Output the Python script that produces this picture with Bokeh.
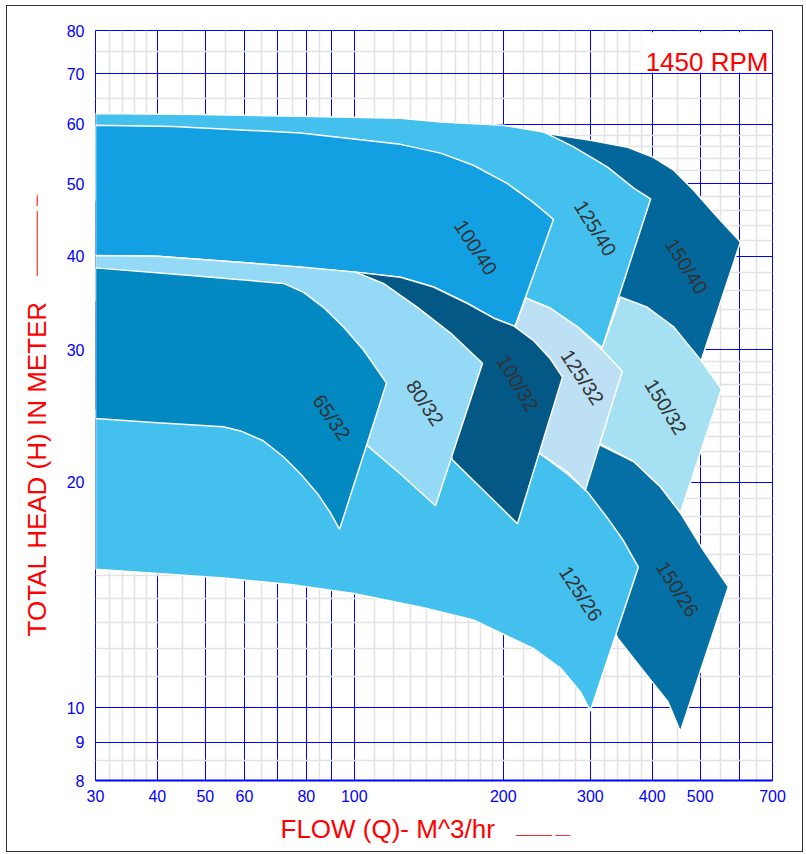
from bokeh.plotting import figure
from bokeh.models import Range1d, FixedTicker, PrintfTickFormatter, Label, Arrow, NormalHead, Title
from bokeh.core.properties import value
from bokeh.embed import file_html
from bokeh.resources import INLINE

# ---- pump selection tiles: flow Q (m^3/hr) and head H (m) along each outline ----
q_150_40 = [227, 238, 300, 357, 402, 442, 485, 542, 603, 501, 416, 345, 261, 227]
h_150_40 = [57.8, 58.5, 57.1, 55.9, 54.2, 52.1, 49.0, 45.1, 41.8, 28.9, 32.4, 34.9, 39.5, 42.0]

q_125_40 = [30, 48.9, 77.9, 124, 149.4, 200, 241, 277, 325, 367, 397, 317, 282.5, 249, 222, 156.5, 30]
h_125_40 = [62.0, 61.8, 61.5, 61.1, 60.4, 59.8, 58.6, 56.0, 52.6, 49.3, 47.7, 30.2, 32.2, 34.1, 35.2, 39.5, 47.5]

q_100_40 = [30, 43.1, 77.9, 124, 149.4, 174.1, 204, 230, 252.7, 211.8, 209.8, 191, 169.4, 144.6, 124, 100.6, 63.8, 40, 30]
h_100_40 = [59.8, 59.6, 58.4, 56.4, 54.9, 52.9, 50.0, 47.2, 44.8, 32.4, 32.3, 33.1, 34.6, 36.4, 37.5, 38.1, 39.1, 40.0, 40.1]

q_150_26 = [293, 314, 367, 416, 456, 508, 570, 456, 430, 384, 340, 314, 280, 293]
h_150_26 = [22.7, 22.4, 21.3, 19.7, 18.2, 16.2, 14.5, 9.3, 10.2, 11.2, 12.4, 14.8, 19.5, 22.0]

q_125_26 = [30, 61.7, 98.3, 156.5, 197.4, 237.9, 269.7, 296, 325, 350, 375, 300, 286.5, 261, 230, 207, 174, 138, 99.7, 74.3, 54.4, 40, 30]
h_125_26 = [24.9, 24.5, 23.8, 22.7, 22.2, 21.8, 20.5, 19.4, 17.9, 16.7, 15.4, 9.9, 10.5, 11.3, 12.0, 12.4, 13.1, 13.6, 14.2, 14.6, 14.9, 15.1, 15.3]

q_150_32 = [345, 391, 442, 501, 552, 456, 416, 367, 314, 317]
h_150_32 = [35.3, 34.2, 32.2, 29.1, 26.6, 18.2, 19.7, 21.3, 22.5, 30.2]

q_125_32 = [222, 249, 282.5, 314, 348, 293, 270, 238, 217, 205, 212]
h_125_32 = [35.2, 34.1, 32.2, 30.2, 28.1, 19.5, 20.6, 21.8, 22.7, 31.4, 32.4]

q_100_32 = [100.6, 124, 144.6, 169.4, 191, 210, 230, 249, 263.5, 213.7, 158, 142.6]
h_100_32 = [38.1, 37.5, 36.4, 34.6, 33.1, 32.3, 30.9, 29.2, 27.6, 17.6, 21.4, 25.7]

q_80_32 = [30, 40, 63.8, 77.9, 100.6, 114.5, 134.2, 156.5, 181.6, 145.9, 124, 106.8, 93.8, 30]
h_80_32 = [40.1, 40.0, 39.1, 38.7, 38.1, 36.8, 34.2, 31.6, 28.8, 18.6, 20.5, 22.3, 24.2, 34.9]

q_65_32 = [30, 46.7, 65.5, 72.0, 79.0, 86.6, 95.1, 104.4, 116.2, 93.4, 89.5, 84.3, 77.9, 72.0, 65.5, 58.9, 54.4, 40, 30]
h_65_32 = [38.6, 37.7, 37.0, 36.8, 35.8, 34.2, 32.2, 30.0, 27.1, 17.3, 18.2, 19.3, 20.5, 21.6, 22.7, 23.4, 23.7, 24.0, 24.3]

# drawing order back to front
tile_q = [q_150_40, q_125_40, q_100_40, q_150_26, q_125_26, q_150_32, q_125_32, q_100_32, q_80_32, q_65_32]
tile_h = [h_150_40, h_125_40, h_100_40, h_150_26, h_125_26, h_150_32, h_125_32, h_100_32, h_80_32, h_65_32]
tile_colors = ["#03679B", "#43C0EE", "#13A0E2", "#0570A5", "#43C0EE",
               "#A5E0F3", "#BEE0F4", "#045886", "#94D9F6", "#0289C2"]

# tile labels
label_text = ["100/40", "125/40", "150/40", "65/32", "80/32", "100/32", "125/32", "150/32", "125/26", "150/26"]
label_q = [176, 307, 469, 90, 139, 214, 289, 426, 287, 450]
label_h = [41.1, 43.6, 38.8, 24.4, 25.5, 27.1, 27.6, 25.2, 14.2, 14.4]
label_angle_deg = [-57, -58, -57.6, -55.7, -56, -59, -56.6, -58.3, -56.6, -57.6]

# axes
x_tick_values = [30, 40, 50, 60, 80, 100, 200, 300, 400, 500, 700]
y_tick_values = [8, 9, 10, 20, 30, 40, 50, 60, 70, 80]
x_grid_major = [40, 50, 60, 70, 80, 90, 100, 200, 300, 400, 500, 600]
x_grid_minor = [32, 34, 36, 38, 45, 55, 65, 75, 85, 110, 120, 130, 140, 150, 160, 170, 180, 190,
                220, 240, 260, 280, 320, 340, 360, 380, 450, 550, 650]
y_grid_major = [9, 10, 20, 30, 40, 50, 60, 70]
y_grid_minor = [8.5, 11, 12, 13, 14, 15, 16, 17, 18, 19, 21, 22, 23, 24, 25, 26, 27, 28, 29,
                32, 34, 36, 38, 42, 44, 46, 48, 52, 54, 56, 58, 65, 75]

FONT = "Liberation Sans"
BLUE = "#0000FF"
RED = "#FF0000"

p = figure(width=797, height=847, x_axis_type="log", y_axis_type="log",
           x_range=Range1d(30, 700), y_range=Range1d(8, 80),
           output_backend="svg", toolbar_location=None,
           min_border_left=88, min_border_right=32, min_border_top=24, min_border_bottom=73)
p.styles = {"border": "1px solid #333333", "margin-left": "6px", "margin-top": "5px"}
p.background_fill_color = "white"
p.border_fill_color = "white"
p.outline_line_color = BLUE
p.outline_line_width = 1

# grids
p.xgrid.ticker = FixedTicker(ticks=x_grid_major, minor_ticks=x_grid_minor)
p.ygrid.ticker = FixedTicker(ticks=y_grid_major, minor_ticks=y_grid_minor)
p.grid.grid_line_color = BLUE
p.grid.grid_line_width = 1
p.grid.minor_grid_line_color = "#E2E2E2"
p.grid.minor_grid_line_width = 1.5

# axes
p.xaxis.ticker = FixedTicker(ticks=x_tick_values)
p.yaxis.ticker = FixedTicker(ticks=y_tick_values)
p.xaxis.formatter = PrintfTickFormatter(format="%d")
p.yaxis.formatter = PrintfTickFormatter(format="%d")
for ax in (p.xaxis[0], p.yaxis[0]):
    ax.major_tick_line_color = None
    ax.minor_tick_line_color = None
    ax.major_tick_in = 0
    ax.major_tick_out = 0
    ax.major_label_text_color = BLUE
    ax.major_label_text_font = FONT
    ax.major_label_text_font_size = "16px"
p.xaxis.major_label_standoff = 9
p.yaxis.major_label_standoff = 11
p.xaxis.axis_line_color = BLUE
p.xaxis.axis_line_width = 2
p.yaxis.axis_line_color = None

# tiles
p.patches(xs=tile_q, ys=tile_h, fill_color=tile_colors, line_color="white", line_width=1.5)

# tile labels
p.text(x=label_q, y=label_h, text=label_text,
       angle=[a * 3.14159265 / 180 for a in label_angle_deg],
       text_font=value(FONT), text_font_size="20px", text_color="#333333",
       text_align="center", text_baseline="middle")

# speed note
p.quad(left=[379], right=[693], bottom=[70.3], top=[79.6], fill_color="white", line_color=None)
p.add_layout(Label(x=687, y=72.6, text="1450 RPM", text_font=FONT, text_font_size="26px",
                   text_color=RED, text_align="right", text_baseline="alphabetic"))

# axis titles
p.add_layout(Title(text="TOTAL HEAD (H) IN METER", align="left", offset=144, standoff=24,
                   text_font=FONT, text_font_size="26px", text_font_style="normal",
                   text_color=RED), "left")
p.add_layout(Title(text="FLOW (Q)- M^3/hr", align="left", offset=185, standoff=15,
                   text_font=FONT, text_font_size="26px", text_font_style="normal",
                   text_color=RED), "below")

# direction arrows next to the axis titles (canvas pixels). Arrow heads are painted
# outside the plot frame, so each arrow is built from small filled heads.
def head(tx, ty, dx, dy, size):
    return Arrow(end=NormalHead(size=size, fill_color=RED, line_color=RED, line_width=0.5),
                 x_start=tx - dx, y_start=ty - dy, x_end=tx, y_end=ty,
                 start_units="canvas", end_units="canvas", line_color=RED, line_width=0.5)

def build_arrow(tail, base, tip, half, fixed, vertical):
    sgn = 1.0 if tip > tail else -1.0
    step = abs(tip - base)
    slope = half / step
    ratio = 2 * slope / (1 - 2 * slope)        # head size per unit distance from tip
    pieces = []
    d = 0.0
    while d + max(1.0, ratio * d) <= step + 0.01:
        pieces.append((tip - sgn * d, max(1.0, ratio * d)))
        d += 0.35
    pos = base + sgn * 1.5
    while sgn * (pos - tail) > 0:
        pieces.append((pos, 1.7))
        pos -= sgn * 0.33
    for pos, s in pieces:
        if vertical:
            p.add_layout(head(fixed, pos, 0, sgn, s))
        else:
            p.add_layout(head(pos, fixed, sgn, 0, s))

# up arrow beside the head title (canvas y grows downward)
build_arrow(tail=269.0, base=205.7, tip=187.3, half=3.4, fixed=29.7, vertical=True)
# right arrow beside the flow title
build_arrow(tail=509.0, base=543.0, tip=563.0, half=2.8, fixed=829.0, vertical=False)

open("out.html", "w").write(file_html(p, INLINE))
